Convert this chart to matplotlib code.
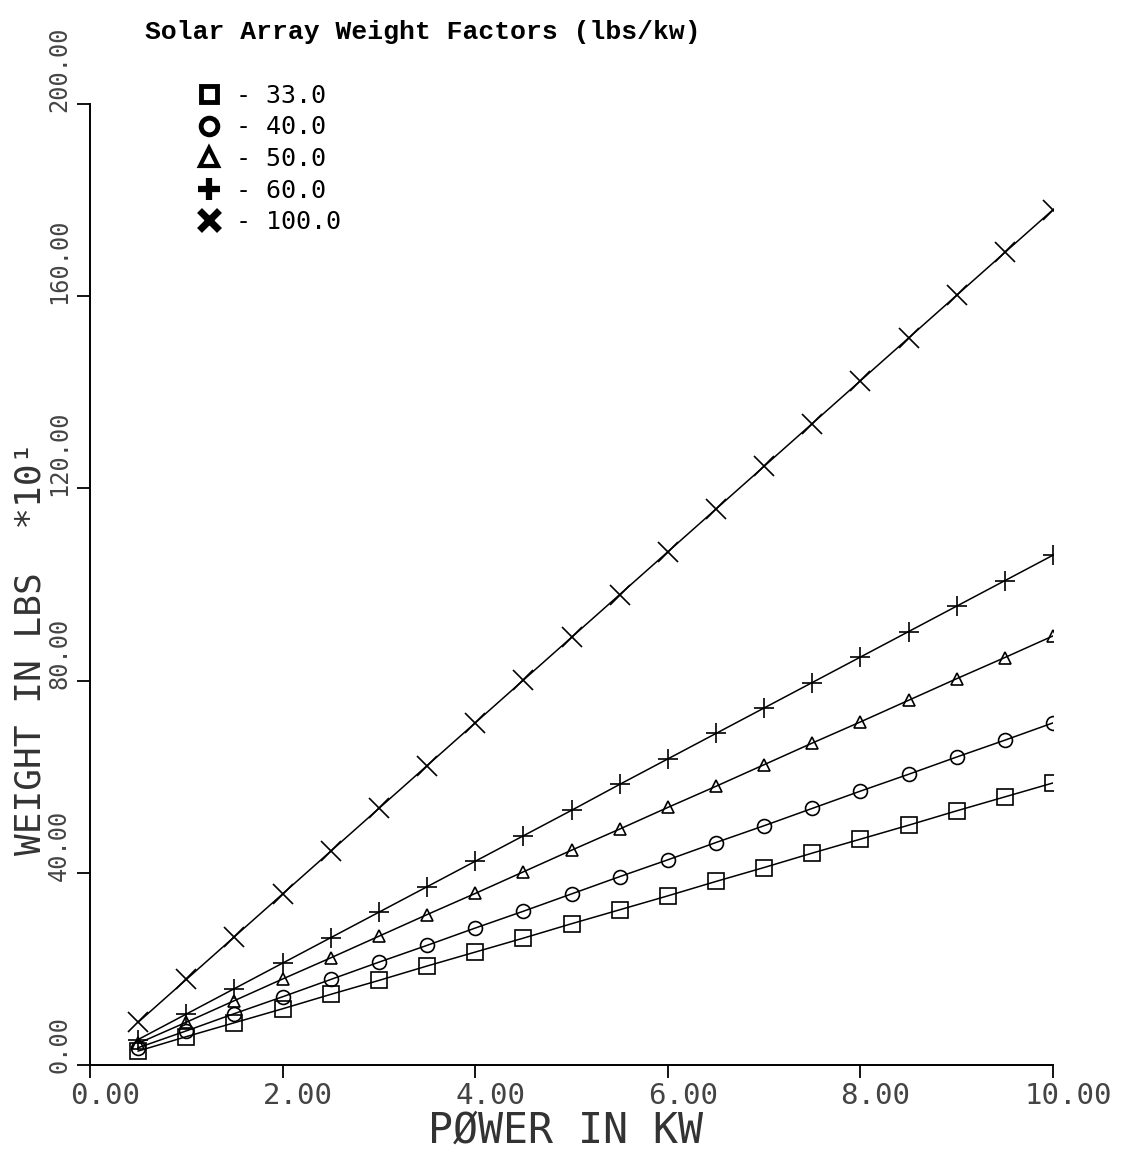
import matplotlib
matplotlib.use("Agg")
import matplotlib.pyplot as plt
import matplotlib.transforms as mtransforms
from matplotlib.lines import Line2D

# power (kW) at each plotted point
power_kw = [0.5, 1.0, 1.5, 2.0, 2.5, 3.0, 3.5, 4.0, 4.5, 5.0,
            5.5, 6.0, 6.5, 7.0, 7.5, 8.0, 8.5, 9.0, 9.5, 10.0]

# weight in lbs x10, one list per weight factor (lbs/kw)
w_33 = [2.9, 5.9, 8.8, 11.7, 14.7, 17.6, 20.6, 23.5, 26.4, 29.4,
        32.3, 35.2, 38.2, 41.1, 44.1, 47.0, 49.9, 52.9, 55.8, 58.7]
w_40 = [3.6, 7.1, 10.7, 14.2, 17.8, 21.4, 24.9, 28.5, 32.0, 35.6,
        39.2, 42.7, 46.3, 49.8, 53.4, 57.0, 60.5, 64.1, 67.6, 71.2]
w_50 = [4.5, 8.9, 13.4, 17.9, 22.3, 26.8, 31.3, 35.7, 40.2, 44.7,
        49.1, 53.6, 58.0, 62.5, 67.0, 71.4, 75.9, 80.4, 84.8, 89.3]
w_60 = [5.3, 10.6, 15.9, 21.2, 26.5, 31.8, 37.1, 42.4, 47.7, 53.0,
        58.4, 63.7, 69.0, 74.3, 79.6, 84.9, 90.2, 95.5, 100.8, 106.1]
w_100 = [8.9, 17.8, 26.7, 35.6, 44.5, 53.4, 62.3, 71.2, 80.1, 89.0,
         97.9, 106.8, 115.7, 124.6, 133.5, 142.4, 151.3, 160.2, 169.1, 178.0]

factor_labels = ["- 33.0", "- 40.0", "- 50.0", "- 60.0", "- 100.0"]
x_ticks = [0, 2, 4, 6, 8, 10]
x_tick_labels = ["0.00", "2.00", "4.00", "6.00", "8.00", "10.00"]
y_ticks = [0, 40, 80, 120, 160, 200]
y_tick_labels = ["0.00", "40.00", "80.00", "120.00", "160.00", "200.00"]

series = [w_33, w_40, w_50, w_60, w_100]
markers = ["s", "o", "^", "+", "x"]
sizes = [11, 10, 9, 14, 14]

mono = "DejaVu Sans Mono"

fig = plt.figure(figsize=(11.4, 11.5), dpi=100)
ax = fig.add_axes([90 / 1140, 1 - 1065 / 1150, 963 / 1140, 961 / 1150])

for ys, m, s in zip(series, markers, sizes):
    ax.plot(power_kw, ys, color="black", lw=1.1, marker=m, ms=s,
            mfc="none", mec="black", mew=1.2)

ax.set_xlim(0, 10)
ax.set_ylim(0, 200)
for side in ["top", "right"]:
    ax.spines[side].set_visible(False)
for side in ["left", "bottom"]:
    ax.spines[side].set_linewidth(1.4)

ax.set_xticks(x_ticks)
ax.set_xticklabels(x_tick_labels, family=mono, fontsize=21, color="#444444")
ax.set_yticks(y_ticks)
ax.set_yticklabels(y_tick_labels, family=mono, fontsize=17, color="#444444",
                   rotation=90, va="bottom")
ax.tick_params(direction="out", length=9.5, width=1.3, color="black")
ax.tick_params(axis="x", pad=3)
ax.tick_params(axis="y", pad=4)

# shift tick labels like the plotter did
dx = mtransforms.ScaledTranslation(15 / 100, 0, fig.dpi_scale_trans)
for lab in ax.get_xticklabels():
    lab.set_transform(lab.get_transform() + dx)
dy = mtransforms.ScaledTranslation(0, -8 / 100, fig.dpi_scale_trans)
for lab in ax.get_yticklabels():
    lab.set_transform(lab.get_transform() + dy)

ax.set_xlabel("PØWER IN KW", family=mono, fontsize=30, color="#333333", va="center")
ax.xaxis.set_label_coords(0.494, -0.0687)
ax.set_ylabel("WEIGHT IN LBS  *10¹", family=mono, fontsize=26, color="#333333", va="center")
ax.yaxis.set_label_coords(-0.0613, 0.434)

fig.text(145 / 1140, 1 - 32 / 1150, "Solar Array Weight Factors (lbs/kw)",
         family="Liberation Mono", fontsize=19, weight="bold", ha="left", va="center")

# legend with heavy symbols
handles = [
    Line2D([], [], ls="none", marker="s", ms=11, mfc="none", mec="black", mew=3.5),
    Line2D([], [], ls="none", marker="o", ms=12, mfc="none", mec="black", mew=3.5),
    Line2D([], [], ls="none", marker="^", ms=13, mfc="none", mec="black", mew=3),
    Line2D([], [], ls="none", marker="+", ms=16, mec="black", mew=4.5),
    Line2D([], [], ls="none", marker="x", ms=14, mec="black", mew=5),
]
fig.legend(handles, factor_labels, loc="upper left",
           bbox_to_anchor=(196 / 1140, 1 - 84 / 1150), frameon=False,
           prop={"family": mono, "size": 18}, handlelength=1.0,
           handletextpad=0.6, labelspacing=0.3, borderpad=0, borderaxespad=0)

fig.savefig("out.png", dpi=100)
